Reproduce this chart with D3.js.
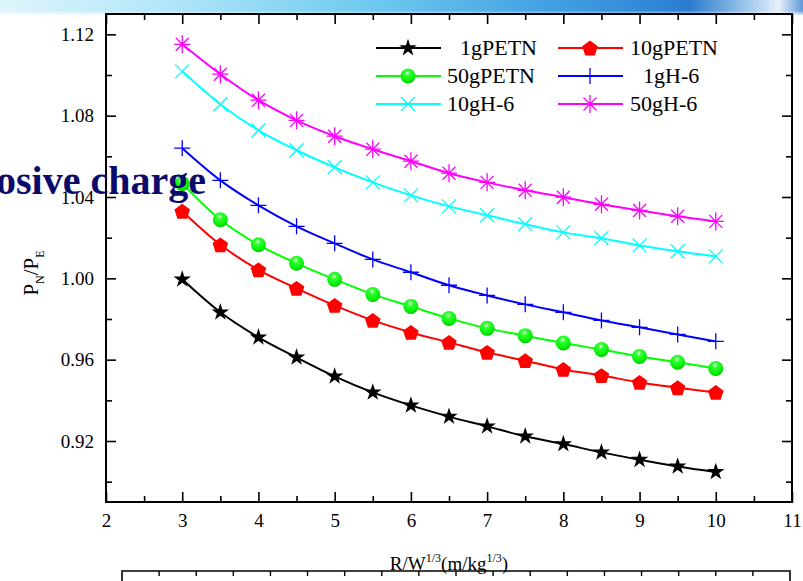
<!DOCTYPE html>
<html>
<head>
<meta charset="utf-8">
<script src="https://cdn.jsdelivr.net/npm/d3@7"></script>
<style>
  html, body { margin: 0; padding: 0; background: #fff; }
  svg { display: block; }
  text { font-family: "Liberation Serif", "Times New Roman", serif; }
</style>
</head>
<body>
<svg id="chart" width="803" height="581"></svg>
<script>
// ---------- data ----------
const xValues = [3, 3.5, 4, 4.5, 5, 5.5, 6, 6.5, 7, 7.5, 8, 8.5, 9, 9.5, 10];
const seriesNames = ["1gPETN", "10gPETN", "50gPETN", "1gH-6", "10gH-6", "50gH-6"];
const petn1  = [0.9995, 0.9833, 0.9710, 0.9611, 0.9518, 0.9439, 0.9375, 0.9320, 0.9272, 0.9223, 0.9185, 0.9144, 0.9108, 0.9075, 0.9048];
const petn10 = [1.0330, 1.0165, 1.0042, 0.9951, 0.9867, 0.9793, 0.9734, 0.9685, 0.9636, 0.9595, 0.9552, 0.9522, 0.9488, 0.9462, 0.9439];
const petn50 = [1.0467, 1.0288, 1.0165, 1.0074, 0.9995, 0.9921, 0.9862, 0.9803, 0.9754, 0.9718, 0.9682, 0.9650, 0.9616, 0.9587, 0.9557];
const h6_1   = [1.0640, 1.0482, 1.0359, 1.0256, 1.0172, 1.0093, 1.0030, 0.9966, 0.9916, 0.9872, 0.9833, 0.9793, 0.9759, 0.9724, 0.9690];
const h6_10  = [1.1018, 1.0856, 1.0728, 1.0630, 1.0546, 1.0472, 1.0408, 1.0354, 1.0310, 1.0266, 1.0226, 1.0197, 1.0162, 1.0133, 1.0108];
const h6_50  = [1.1151, 1.1004, 1.0876, 1.0777, 1.0699, 1.0635, 1.0576, 1.0517, 1.0472, 1.0433, 1.0399, 1.0364, 1.0334, 1.0305, 1.0280];
const xTicks = [2, 3, 4, 5, 6, 7, 8, 9, 10, 11];
const yTicks = [0.92, 0.96, 1.00, 1.04, 1.08, 1.12];
const yTickLabels = ["0.92", "0.96", "1.00", "1.04", "1.08", "1.12"];

const seriesValues = [petn1, petn10, petn50, h6_1, h6_10, h6_50];
const colors = ["#000000", "#ff0000", "#00ff00", "#0000ff", "#00ffff", "#ff00ff"];
const markers = ["star", "pentagon", "sphere", "plus", "cross", "asterisk"];

// ---------- layout ----------
const svg = d3.select("#chart");
const W = 803, H = 581;
const pLeft = 106, pRight = 792, pTop = 14, pBottom = 502;
const x = d3.scaleLinear().domain([2, 11]).range([pLeft, pRight]);
const y = d3.scaleLinear().domain([0.89, 1.13]).range([pBottom, pTop]);

// ---------- slide background (header bar) ----------
const defs = svg.append("defs");
const hg = defs.append("linearGradient").attr("id", "hdr").attr("x1", 0).attr("x2", 1).attr("y1", 0).attr("y2", 0);
[[0, "#dff5fc"], [0.2, "#b4e7f8"], [0.45, "#72cbef"], [0.7, "#3f9ee2"], [0.86, "#2c7ccf"], [0.93, "#9fc6ea"], [0.97, "#e6f0fa"], [1, "#5f97d6"]]
  .forEach(([o, c]) => hg.append("stop").attr("offset", o).attr("stop-color", c));
const hf = defs.append("linearGradient").attr("id", "hdrfade").attr("x1", 0).attr("x2", 0).attr("y1", 0).attr("y2", 1);
hf.append("stop").attr("offset", 0).attr("stop-color", "#fff").attr("stop-opacity", 0);
hf.append("stop").attr("offset", 0.7).attr("stop-color", "#fff").attr("stop-opacity", 0);
hf.append("stop").attr("offset", 1).attr("stop-color", "#fff").attr("stop-opacity", 0.8);
svg.append("rect").attr("x", 0).attr("y", 0).attr("width", W).attr("height", 15).attr("fill", "url(#hdr)");
svg.append("rect").attr("x", 0).attr("y", 0).attr("width", W).attr("height", 15).attr("fill", "url(#hdrfade)");

// sphere gradient
const sg = defs.append("radialGradient").attr("id", "sphere").attr("cx", 0.45).attr("cy", 0.3).attr("r", 0.7);
sg.append("stop").attr("offset", 0).attr("stop-color", "#e8ffe8");
sg.append("stop").attr("offset", 0.25).attr("stop-color", "#33ff33");
sg.append("stop").attr("offset", 0.8).attr("stop-color", "#00ee00");
sg.append("stop").attr("offset", 1).attr("stop-color", "#00bb00");

// ---------- axes ----------
const axisStroke = "#000";
const minorX = d3.range(2.5, 11, 1);
const minorY = [0.90, 0.94, 0.98, 1.02, 1.06, 1.10];

function styleAxis(g) {
  g.select(".domain").remove();
  g.selectAll(".tick line").attr("stroke", axisStroke).attr("stroke-width", 1.6);
  g.selectAll("text").attr("font-size", 19).attr("fill", "#000")
    .attr("font-family", '"Liberation Serif", "Times New Roman", serif');
}

// bottom
svg.append("g").attr("transform", `translate(0,${pBottom})`)
  .call(d3.axisBottom(x).tickValues(xTicks).tickFormat(d3.format("d")).tickSizeInner(-10).tickSizeOuter(0).tickPadding(12))
  .call(styleAxis);
svg.append("g").attr("transform", `translate(0,${pBottom})`)
  .call(d3.axisBottom(x).tickValues(minorX).tickFormat("").tickSizeInner(-6).tickSizeOuter(0))
  .call(styleAxis);
// top
svg.append("g").attr("transform", `translate(0,${pTop})`)
  .call(d3.axisTop(x).tickValues(xTicks).tickFormat("").tickSizeInner(-10).tickSizeOuter(0))
  .call(styleAxis);
svg.append("g").attr("transform", `translate(0,${pTop})`)
  .call(d3.axisTop(x).tickValues(minorX).tickFormat("").tickSizeInner(-6).tickSizeOuter(0))
  .call(styleAxis);
// left
svg.append("g").attr("transform", `translate(${pLeft},0)`)
  .call(d3.axisLeft(y).tickValues(yTicks).tickFormat((d, i) => yTickLabels[i]).tickSizeInner(-10).tickSizeOuter(0).tickPadding(12))
  .call(styleAxis);
svg.append("g").attr("transform", `translate(${pLeft},0)`)
  .call(d3.axisLeft(y).tickValues(minorY).tickFormat("").tickSizeInner(-6).tickSizeOuter(0))
  .call(styleAxis);
// right
svg.append("g").attr("transform", `translate(${pRight},0)`)
  .call(d3.axisRight(y).tickValues(yTicks).tickFormat("").tickSizeInner(-10).tickSizeOuter(0))
  .call(styleAxis);
svg.append("g").attr("transform", `translate(${pRight},0)`)
  .call(d3.axisRight(y).tickValues(minorY).tickFormat("").tickSizeInner(-6).tickSizeOuter(0))
  .call(styleAxis);

// frame
svg.append("rect").attr("x", pLeft).attr("y", pTop).attr("width", pRight - pLeft).attr("height", pBottom - pTop)
  .attr("fill", "none").attr("stroke", "#000").attr("stroke-width", 2);

// ---------- axis titles ----------
const xt = svg.append("text").attr("x", 449).attr("y", 570).attr("text-anchor", "middle").attr("font-size", 19);
xt.append("tspan").text("R/W");
xt.append("tspan").text("1/3").attr("font-size", 12).attr("dy", -8);
xt.append("tspan").text("(m/kg").attr("dy", 8);
xt.append("tspan").text("1/3").attr("font-size", 12).attr("dy", -8);
xt.append("tspan").text(")").attr("dy", 8);

const yt = svg.append("text").attr("transform", "translate(38,273) rotate(-90)").attr("text-anchor", "middle").attr("font-size", 21);
yt.append("tspan").text("P");
yt.append("tspan").text("N").attr("font-size", 12).attr("dy", 6);
yt.append("tspan").text("/P").attr("dy", -6);
yt.append("tspan").text("E").attr("font-size", 12).attr("dy", 6);

// ---------- markers ----------
function drawMarker(g, type, color, cx, cy) {
  const m = g.append("g").attr("transform", `translate(${cx},${cy})`);
  if (type === "star") {
    m.append("path").attr("d", d3.symbol(d3.symbolStar, 95)()).attr("fill", color);
  } else if (type === "pentagon") {
    const r = 8.2;
    const pts = d3.range(5).map(i => {
      const a = -Math.PI / 2 + i * 2 * Math.PI / 5;
      return [r * Math.cos(a), r * Math.sin(a) + 0.8];
    });
    m.append("path").attr("d", "M" + pts.join("L") + "Z").attr("fill", color);
  } else if (type === "sphere") {
    m.append("circle").attr("r", 7.5).attr("fill", "url(#sphere)");
  } else if (type === "plus") {
    m.append("path").attr("d", "M-8,0H8M0,-8V8").attr("stroke", color).attr("stroke-width", 1.3).attr("fill", "none");
  } else if (type === "cross") {
    m.append("path").attr("d", "M-7,-7L7,7M-7,7L7,-7").attr("stroke", color).attr("stroke-width", 1.3).attr("fill", "none");
  } else if (type === "asterisk") {
    m.append("path").attr("d", "M-8,0H8M0,-9V9M-6.5,-6.5L6.5,6.5M-6.5,6.5L6.5,-6.5").attr("stroke", color).attr("stroke-width", 1.3).attr("fill", "none");
  }
}

// ---------- series ----------
const line = d3.line().x(d => x(d[0])).y(d => y(d[1])).curve(d3.curveMonotoneX);
seriesValues.forEach((vals, si) => {
  const pts = xValues.map((xv, i) => [xv, vals[i]]);
  const g = svg.append("g");
  g.append("path").attr("d", line(pts)).attr("fill", "none").attr("stroke", colors[si]).attr("stroke-width", 2);
  pts.forEach(p => drawMarker(g, markers[si], colors[si], x(p[0]), y(p[1])));
});

// ---------- legend ----------
const legendCols = [376, 558];
const legendRows = [48, 76, 104];
const legendTextX = [[460, 630], [447, 643], [447, 630]];
seriesNames.forEach((name, i) => {
  const col = i % 2, row = Math.floor(i / 2);
  const lx = legendCols[col], ly = legendRows[row];
  const g = svg.append("g");
  g.append("line").attr("x1", lx).attr("x2", lx + 65).attr("y1", ly).attr("y2", ly)
    .attr("stroke", colors[i]).attr("stroke-width", 2);
  drawMarker(g, markers[i], colors[i], lx + 32, ly);
  g.append("text").attr("x", legendTextX[row][col]).attr("y", ly + 7).attr("font-size", 22).text(name);
});

// ---------- slide overlays ----------
svg.append("text").attr("x", -4).attr("y", 194).attr("font-size", 40).attr("font-weight", "bold")
  .attr("fill", "#0b0b6b").text("osive charge");

// lower chart frame (partially visible)
const bx = d3.scaleLinear().domain([0, 18]).range([122, 790]);
const bg = svg.append("g");
bg.append("path").attr("d", `M${bx(0)},${H}V571H${bx(18)}V${H}`).attr("fill", "none").attr("stroke", "#000").attr("stroke-width", 1.6);
bg.selectAll("line").data(d3.range(1, 18)).join("line")
  .attr("x1", d => bx(d)).attr("x2", d => bx(d)).attr("y1", 571).attr("y2", 576)
  .attr("stroke", "#000").attr("stroke-width", 1.4);
</script>
</body>
</html>
